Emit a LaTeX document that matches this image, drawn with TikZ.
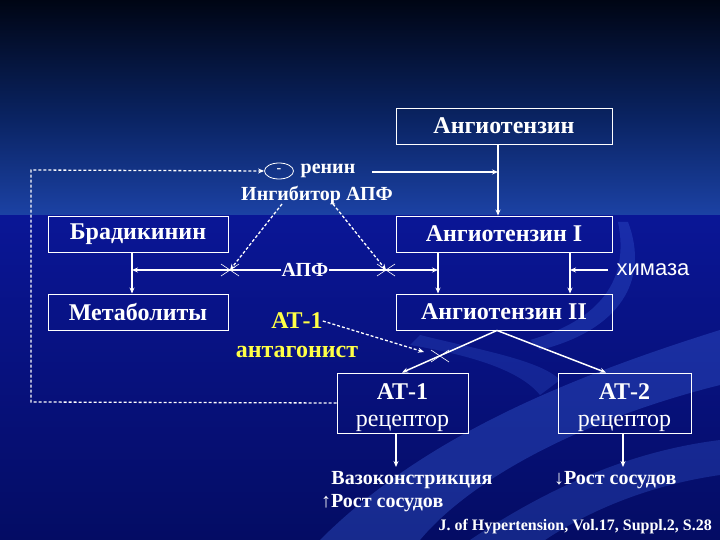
\documentclass[tikz,border=0pt]{standalone}
\usepackage{fontspec}
\setmainfont{Liberation Serif}
\newfontfamily\sansf{Liberation Sans}
\usetikzlibrary{arrows.meta,calc,shapes.geometric}
\definecolor{bgtop}{RGB}{0,5,20}
\definecolor{bgmid}{RGB}{10,36,100}
\definecolor{bghor}{RGB}{28,66,165}
\definecolor{bglow}{RGB}{10,22,150}
\definecolor{bgbot}{RGB}{4,12,100}
\definecolor{swoosh}{RGB}{60,100,220}
\definecolor{antag}{RGB}{255,255,70}
\begin{document}
\begin{tikzpicture}[x=1pt,y=-1pt,
  box/.style={draw=white, line width=0.9pt, text=white, inner sep=0pt,
    font=\bfseries\fontsize{24}{26}\selectfont, minimum height=36pt},
  rbox/.style={draw=white, line width=0.9pt, text=white, inner sep=0pt,
    font=\fontsize{24}{28}\selectfont},
  lbl/.style={text=white, inner sep=0pt},
  arr/.style={white, line width=1.5pt, -{Stealth[length=6pt,width=5pt]}},
  dsh/.style={white, line width=1.3pt, dash pattern=on 3pt off 2pt, -{Stealth[length=6pt,width=5pt]}},
  xm/.style={white, line width=0.6pt}]
% background
\useasboundingbox (0,0) rectangle (720,540);
\shade[top color=bgtop, bottom color=bgmid] (0,0) rectangle (720,120);
\shade[top color=bgmid, bottom color=bghor] (0,120) rectangle (720,216);
\shade[top color=bglow, bottom color=bgbot] (0,216) rectangle (720,540);
\fill[swoosh, opacity=0.35] (320,540) .. controls (420,440) and (560,380) .. (720,330)
  -- (720,385) .. controls (580,420) and (470,480) .. (420,540) -- cycle;
\fill[swoosh, opacity=0.3] (470,540) .. controls (560,480) and (640,450) .. (720,440)
  -- (720,475) .. controls (650,485) and (590,510) .. (545,540) -- cycle;
\fill[swoosh, opacity=0.3] (628,222) .. controls (650,280) and (620,330) .. (540,350)
  -- (530,340) .. controls (600,320) and (630,280) .. (618,222) -- cycle;
\fill[swoosh, opacity=0.25] (420,335) .. controls (480,350) and (540,360) .. (560,380)
  -- (540,395) .. controls (520,370) and (470,355) .. (410,345) -- cycle;

% boxes
\node[box, minimum width=216pt] (ang)  at (504,126) {Ангиотензин};
\node[box, minimum width=216pt] (ang1) at (504,234) {Ангиотензин I};
\node[box, minimum width=216pt] (ang2) at (504,312) {Ангиотензин II};
\node[box, minimum width=180pt] (brad) at (138,234) {Брадикинин};
\node[box, minimum width=180pt] (met)  at (138,312) {Метаболиты};
\node[rbox, minimum width=131pt, minimum height=60pt] (at1) at (402.5,403)
  {\raisebox{-4pt}[\height][\depth]{\begin{tabular}{@{}c@{}}\textbf{АТ-1}\\[-1pt]рецептор\end{tabular}}};
\node[rbox, minimum width=133pt, minimum height=60pt] (at2) at (624.5,403)
  {\raisebox{-4pt}[\height][\depth]{\begin{tabular}{@{}c@{}}\textbf{АТ-2}\\[-1pt]рецептор\end{tabular}}};

% labels
\node[draw=white, line width=0.8pt, ellipse, minimum width=29pt, minimum height=16pt, inner sep=0pt, text=white,
  font=\bfseries\fontsize{14}{14}\selectfont] (neg) at (279,171) {-};
\node[lbl, font=\bfseries\fontsize{20}{22}\selectfont] (renin) at (328,171) {ренин};
\node[lbl, font=\bfseries\fontsize{20}{22}\selectfont] (inh) at (317,195) {Ингибитор АПФ};
\node[lbl, font=\bfseries\fontsize{20}{22}\selectfont] (apf) at (305,270) {АПФ};
\node[lbl, font=\sansf\fontsize{22}{24}\selectfont] (chym) at (653,270) {химаза};
\node[lbl, text=antag, font=\bfseries\fontsize{24}{26}\selectfont] (ant1) at (297,321) {АТ-1};
\node[lbl, text=antag, font=\bfseries\fontsize{24}{26}\selectfont] (ant2) at (297,352) {антагонист};
\node[lbl, font=\bfseries\fontsize{20}{22}\selectfont] (vaso) at (412,480) {Вазоконстрикция};
\node[lbl, font=\bfseries\fontsize{20}{22}\selectfont, anchor=west] (grow1) at (321,503) {↑Рост сосудов};
\node[lbl, font=\bfseries\fontsize{20}{22}\selectfont, anchor=west] (grow2) at (554,480) {↓Рост сосудов};
\node[lbl, font=\bfseries\fontsize{16}{18}\selectfont, anchor=east] (ref) at (712,527) {J. of Hypertension, Vol.17, Suppl.2, S.28};

% coordinates
\coordinate (cx1) at (230,270);
\coordinate (cx2) at (386,270);
\coordinate (cx3) at (440,356);
\coordinate (rs) at (372,172);
\coordinate (fbl) at (31,402);
\coordinate (fbt) at (31,170);

% main arrows
\draw[arr] ([xshift=-6pt]ang.south) -- ([xshift=-6pt]ang1.north);
\draw[arr] (rs) -- ($(rs -| ang.south)+(-6,0)$);
\draw[arr] ([xshift=-6pt]brad.south) -- ([xshift=-6pt]met.north);
\draw[arr] (apf.west) -- (132,270);
\draw[arr] (apf.east) -- (438,270);
\draw[arr] ([xshift=-66pt]ang1.south) -- ([xshift=-66pt]ang2.north);
\draw[arr] ([xshift=66pt]ang1.south) -- ([xshift=66pt]ang2.north);
\draw[arr] ([xshift=-8pt]chym.west) -- (570,270);
\draw[arr] ([xshift=-7pt]ang2.south) -- ([xshift=-0.5pt]at1.north);
\draw[arr] ([xshift=-7pt]ang2.south) -- ([xshift=-18.5pt]at2.north);
\draw[arr] ([xshift=-6.5pt]at1.south) -- (396,467);
\draw[arr] ([xshift=-1.5pt]at2.south) -- (623,467);

% dashed
\draw[dsh] (282,204) -- (cx1);
\draw[dsh] (333,204) -- (cx2);
\draw[dsh] (ant1.east) -- (424,352);
\draw[dsh] (at1.west) -- (fbl) -- (fbt) -- (neg.west);

% crosses
\foreach \c in {cx1,cx2,cx3}{
  \draw[xm] ($(\c)+(-9,-6)$) -- ($(\c)+(9,6)$) ($(\c)+(-9,6)$) -- ($(\c)+(9,-6)$);
}
\end{tikzpicture}
\end{document}
